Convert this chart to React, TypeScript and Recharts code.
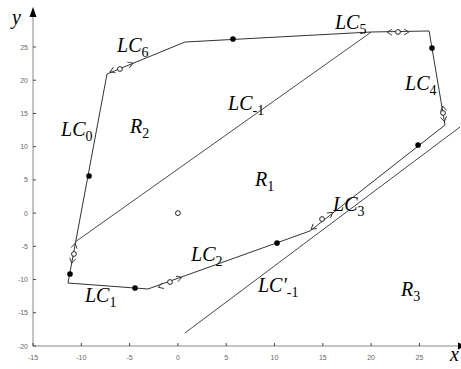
import React from 'react';
import { ScatterChart, Scatter, XAxis, YAxis } from 'recharts';

const xTicks = [-15, -10, -5, 0, 5, 10, 15, 20, 25];
const yTicks = [-20, -15, -10, -5, 0, 5, 10, 15, 20, 25];

// closed limit-cycle polygon (LC0 ... LC6)
const polygon = [
  { x: -7.34, y: 20.94 },
  { x: 0.73, y: 25.75 },
  { x: 20.02, y: 27.26 },
  { x: 26.0, y: 27.41 },
  { x: 27.65, y: 13.26 },
  { x: 13.67, y: -2.69 },
  { x: -3.1, y: -11.42 },
  { x: -11.38, y: -10.52 },
  { x: -7.34, y: 20.94 },
];

// LC-1 separating line
const lcMinus1 = [
  { x: -10.65, y: -4.35 },
  { x: 20.02, y: 27.26 },
];

// LC'-1 line
const lcPrimeMinus1 = [
  { x: 0.73, y: -18.04 },
  { x: 29.2, y: 12.96 },
];

const blackDots = [
  { x: -9.2, y: 5.59 },
  { x: -11.17, y: -9.16 },
  { x: -4.44, y: -11.27 },
  { x: 10.26, y: -4.5 },
  { x: 24.86, y: 10.25 },
  { x: 26.3, y: 24.85 },
  { x: 5.7, y: 26.21 },
];

const openDots = [
  { x: -6.0, y: 21.69 },
  { x: -10.76, y: -6.15 },
  { x: -0.82, y: -10.37 },
  { x: 14.92, y: -0.89 },
  { x: 27.44, y: 15.07 },
  { x: 22.78, y: 27.26 },
  { x: 0, y: 0 },
];

// arrow heads: position and screen direction (degrees)
const arrows = [
  { x: -7.03, y: 21.24, dir: 157.7 },
  { x: -4.65, y: 22.59, dir: -22.3 },
  { x: 21.65, y: 27.22, dir: 180 },
  { x: 23.92, y: 27.26, dir: 0 },
  { x: 27.41, y: 16.12, dir: -99.7 },
  { x: 27.58, y: 13.76, dir: 80.3 },
  { x: 13.78, y: -2.44, dir: 141.9 },
  { x: 16.02, y: 0.12, dir: -38.1 },
  { x: -2.03, y: -11.17, dir: 160.3 },
  { x: 0.39, y: -9.66, dir: -19.7 },
  { x: -10.65, y: -4.54, dir: -79.4 },
  { x: -10.99, y: -7.55, dir: 100.6 },
];

const labels = [
  { x: -6.3, y: 24.25, main: 'LC', prime: '', sub: '6' },
  { x: 16.26, y: 27.71, main: 'LC', prime: '', sub: '5' },
  { x: 23.51, y: 18.53, main: 'LC', prime: '', sub: '4' },
  { x: 5.19, y: 15.52, main: 'LC', prime: '', sub: '-1' },
  { x: -12.1, y: 11.61, main: 'LC', prime: '', sub: '0' },
  { x: -4.96, y: 12.06, main: 'R', prime: '', sub: '2' },
  { x: 7.98, y: 4.08, main: 'R', prime: '', sub: '1' },
  { x: 16.06, y: 0.32, main: 'LC', prime: '', sub: '3' },
  { x: 1.36, y: -7.21, main: 'LC', prime: '', sub: '2' },
  { x: 8.29, y: -11.87, main: 'LC', prime: "'", sub: '-1' },
  { x: 23.1, y: -12.47, main: 'R', prime: '', sub: '3' },
  { x: -9.62, y: -13.38, main: 'LC', prime: '', sub: '1' },
];

const SERIF = 'Liberation Serif';
const SANS = 'Liberation Sans';
const LINE = '#333';

const XTick = (p: any) => (
  <g>
    <line x1={p.x} x2={p.x} y1={p.y} y2={p.y - 3} stroke="#444" />
    <text x={p.x} y={p.y + 14} textAnchor="middle" fill="#666" style={{ fontFamily: SANS, fontSize: 7 }}>
      {p.payload.value}
    </text>
  </g>
);

const YTick = (p: any) => (
  <g>
    <line x1={p.x} x2={p.x + 3} y1={p.y} y2={p.y} stroke="#444" />
    <text x={p.x - 5} y={p.y + 2.5} textAnchor="end" fill="#666" style={{ fontFamily: SANS, fontSize: 7 }}>
      {p.payload.value}
    </text>
  </g>
);

const YLabel = (p: any) => {
  const vb = p.viewBox || {};
  const x = vb.x + (vb.width || 0);
  const y = vb.y;
  return (
    <g>
      <polygon points={`${x},${y - 2} ${x - 3.5},${y + 8} ${x + 3.5},${y + 8}`} fill="#000" />
      <text x={x - 21} y={y + 15} fill="#000" style={{ fontFamily: SERIF, fontSize: 20, fontStyle: 'italic' }}>
        y
      </text>
    </g>
  );
};

const XLabel = (p: any) => {
  const vb = p.viewBox || {};
  const x = vb.x + vb.width;
  const y = vb.y;
  return (
    <g>
      <polygon points={`${x - 2},${y - 3.5} ${x + 6},${y} ${x - 2},${y + 3.5}`} fill="#000" />
      <text x={x - 10} y={y + 15} fill="#000" style={{ fontFamily: SERIF, fontSize: 20, fontStyle: 'italic' }}>
        x
      </text>
    </g>
  );
};

const noShape = () => <g />;

const BlackDot = (p: any) => <circle cx={p.cx} cy={p.cy} r={2.8} fill="#000" />;
const OpenDot = (p: any) => (
  <circle cx={p.cx} cy={p.cy} r={2.4} fill="#fff" stroke="#222" strokeWidth={1} />
);

const Arrow = (p: any) => {
  const { cx, cy } = p;
  const dir = p.payload?.dir ?? p.dir ?? 0;
  return (
    <g transform={`rotate(${dir} ${cx} ${cy})`}>
      <polyline
        points={`${cx - 5},${cy - 3} ${cx},${cy} ${cx - 5},${cy + 3}`}
        fill="none"
        stroke="#333"
        strokeWidth={0.9}
      />
    </g>
  );
};

const TextLabel = (p: any) => {
  const d = p.payload || p;
  return (
    <text x={p.cx} y={p.cy} fill="#000" style={{ fontFamily: SERIF, fontSize: 20 }}>
      <tspan style={{ fontStyle: 'italic' }}>{d.main}</tspan>
      {d.prime ? <tspan style={{ fontStyle: 'italic' }}>{d.prime}</tspan> : null}
      <tspan style={{ fontSize: 14 }} dy={5}>
        {d.sub}
      </tspan>
    </text>
  );
};

export default function App() {
  return (
    <div style={{ position: 'absolute', left: 0, top: 0, width: 461, height: 369, background: '#fff' }}>
      <ScatterChart width={461} height={369} margin={{ top: 9, right: 1, bottom: 22, left: 32 }}>
        <XAxis
          type="number"
          dataKey="x"
          domain={[-15, 29.2]}
          ticks={xTicks}
          interval={0}
          allowDataOverflow
          height={1}
          tickSize={0}
          tickMargin={0}
          tickLine={false}
          tick={<XTick />}
          axisLine={{ stroke: '#888' }}
          label={{ content: <XLabel /> }}
        />
        <YAxis
          type="number"
          dataKey="y"
          domain={[-20, 30.72]}
          ticks={yTicks}
          interval={0}
          allowDataOverflow
          width={1}
          tickSize={0}
          tickMargin={0}
          tickLine={false}
          tick={<YTick />}
          axisLine={{ stroke: '#888' }}
          label={{ content: <YLabel /> }}
        />
        <Scatter
          data={polygon}
          line={{ stroke: LINE, strokeWidth: 1 }}
          lineType="joint"
          shape={noShape}
          isAnimationActive={false}
        />
        <Scatter
          data={lcMinus1}
          line={{ stroke: LINE, strokeWidth: 0.9 }}
          lineType="joint"
          shape={noShape}
          isAnimationActive={false}
        />
        <Scatter
          data={lcPrimeMinus1}
          line={{ stroke: LINE, strokeWidth: 0.9 }}
          lineType="joint"
          shape={noShape}
          isAnimationActive={false}
        />
        <Scatter data={arrows} shape={Arrow} isAnimationActive={false} />
        <Scatter data={blackDots} shape={BlackDot} isAnimationActive={false} />
        <Scatter data={openDots} shape={OpenDot} isAnimationActive={false} />
        <Scatter data={labels} shape={TextLabel} isAnimationActive={false} />
      </ScatterChart>
    </div>
  );
}
